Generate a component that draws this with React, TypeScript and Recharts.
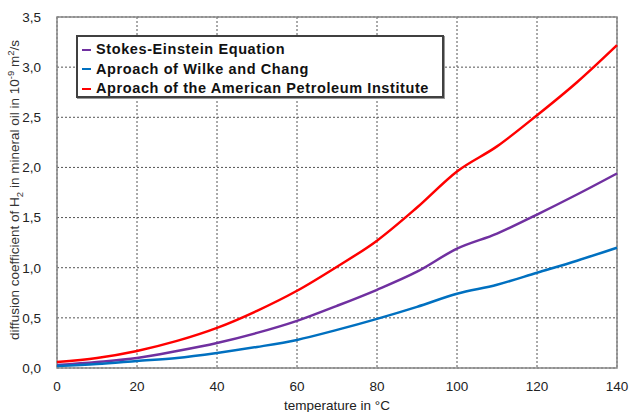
import { CartesianGrid, Line, LineChart, ReferenceArea, XAxis, YAxis } from "recharts"

const temperatures = [0, 10, 20, 30, 40, 50, 60, 70, 80, 90, 100, 110, 120, 130, 140]
const stokesEinstein = [0.03, 0.06, 0.1, 0.17, 0.25, 0.35, 0.47, 0.62, 0.78, 0.96, 1.19, 1.34, 1.53, 1.73, 1.94]
const wilkeChang = [0.02, 0.04, 0.07, 0.1, 0.15, 0.21, 0.28, 0.38, 0.49, 0.61, 0.74, 0.83, 0.95, 1.07, 1.2]
const petroleumInstitute = [0.06, 0.1, 0.17, 0.27, 0.4, 0.57, 0.77, 1.01, 1.27, 1.6, 1.96, 2.21, 2.52, 2.85, 3.22]

const xTicks = [0, 20, 40, 60, 80, 100, 120, 140]
const yTicks = [0, 0.5, 1, 1.5, 2, 2.5, 3, 3.5]

const series = [
  { key: "se", name: "Stokes-Einstein Equation", color: "#7030a0" },
  { key: "wc", name: "Aproach of Wilke and Chang", color: "#0070c0" },
  { key: "api", name: "Aproach of the American Petroleum Institute", color: "#ff0000" },
]

const data = temperatures.map((t, i) => ({
  t,
  se: stokesEinstein[i],
  wc: wilkeChang[i],
  api: petroleumInstitute[i],
}))

const font = "'Liberation Sans', Arial, sans-serif"

function LegendBox() {
  return (
    <div
      style={{
        position: "absolute",
        left: 76,
        top: 35,
        width: 368,
        height: 63,
        boxSizing: "border-box",
        border: "2px solid #404040",
        background: "#fff",
        padding: "3px 0 0 4px",
        fontFamily: font,
        fontWeight: "bold",
        fontSize: 14.5,
        letterSpacing: 0.6,
        color: "#111",
        lineHeight: "19.5px",
        boxShadow: "1px 1px 0 #999",
      }}
    >
      {series.map((s) => (
        <div key={s.key} style={{ display: "flex", alignItems: "center", whiteSpace: "nowrap" }}>
          <span style={{ display: "inline-block", width: 9, height: 2, background: s.color, marginRight: 5 }} />
          {s.name}
        </div>
      ))}
    </div>
  )
}

function YLabel() {
  return (
    <text
      transform="translate(19, 190) rotate(-90)"
      textAnchor="middle"
      fontFamily={font}
      fontSize={13.5}
      fill="#333"
    >
      diffusion coefficient of H
      <tspan fontSize={9.5} dy={4}>2</tspan>
      <tspan dy={-4}> in mineral oil in 10</tspan>
      <tspan fontSize={9.5} dy={-5}>-9</tspan>
      <tspan dy={5}> m</tspan>
      <tspan fontSize={9.5} dy={-5}>2</tspan>
      <tspan dy={5}>/s</tspan>
    </text>
  )
}

export default function App() {
  const fmt = (v: number) => v.toFixed(1).replace(".", ",")
  return (
    <div style={{ position: "fixed", left: 0, top: 0, width: 631, height: 412, background: "#fff" }}>
      <LineChart width={631} height={412} data={data} margin={{ top: 17, right: 14, left: 0, bottom: 0 }}>
        <CartesianGrid stroke="#555" strokeDasharray="2 2" />
        <XAxis
          dataKey="t"
          type="number"
          domain={[0, 140]}
          ticks={xTicks}
          axisLine={false}
          tickLine={false}
          height={44}
          tick={{ fontFamily: font, fontSize: 13.5, fill: "#222" }}
          tickMargin={7}
          label={{ value: "temperature  in °C", position: "insideBottom", offset: 2, fontFamily: font, fontSize: 13.5, fill: "#222" }}
        />
        <YAxis
          type="number"
          domain={[0, 3.5]}
          ticks={yTicks}
          axisLine={false}
          tickLine={false}
          width={57}
          tickFormatter={fmt}
          tick={{ fontFamily: font, fontSize: 13.5, fill: "#222" }}
          tickMargin={10}
        />
        <ReferenceArea x1={0} x2={140} y1={0} y2={3.5} fill="none" stroke="#888" strokeWidth={1.5} ifOverflow="visible" />
        {series.map((s) => (
          <Line
            key={s.key}
            type="monotone"
            dataKey={s.key}
            name={s.name}
            stroke={s.color}
            strokeWidth={2.5}
            dot={false}
            isAnimationActive={false}
          />
        ))}
        <YLabel />
      </LineChart>
      <LegendBox />
    </div>
  )
}
